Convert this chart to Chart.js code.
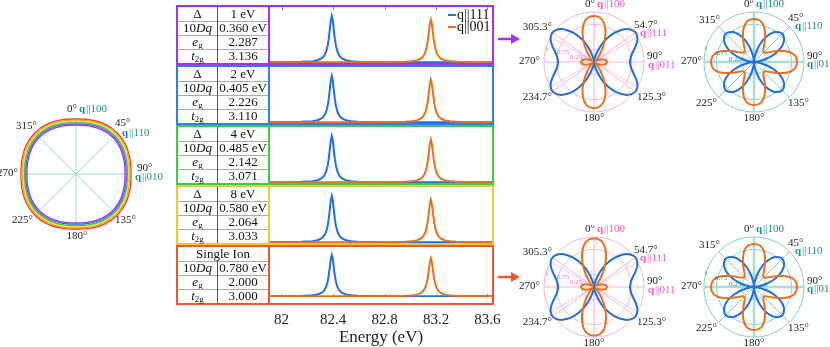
<!DOCTYPE html>
<html><head><meta charset="utf-8">
<script src="https://cdn.jsdelivr.net/npm/chart.js@4.4.1/dist/chart.umd.min.js"></script>
<style>
body{margin:0;background:#fff;}
#wrap{position:relative;width:830px;height:347px;overflow:hidden;font-family:"Liberation Serif",serif;color:#111;}
canvas{position:absolute;}
.box{position:absolute;left:176px;width:314px;height:56px;border:2px solid;z-index:2;}
.tbl{position:absolute;left:0;top:0;width:90px;height:56px;border-right:2px solid;}
.c{position:absolute;height:14px;line-height:14px;font-size:13px;text-align:center;white-space:nowrap;}
.c sub{font-size:9px;line-height:0;vertical-align:-2px;}
.hl{position:absolute;left:0;width:90px;height:1px;background:#aaa;}
.vl{position:absolute;left:39px;width:1px;background:#555;}
svg{position:absolute;}
</style></head>
<body><div id="wrap"></div>
<script>
// ---- energy spectra (same in all five panels) ----
const energy = [81.91,82.05,82.15,82.24,82.28,82.31,82.33,82.346,82.358,82.366,82.374,82.382,82.39,82.398,82.406,82.414,82.422,82.434,82.45,82.47,82.5,82.54,82.59,82.69,82.84,82.96,83.01,83.05,83.08,83.1,83.116,83.128,83.136,83.144,83.152,83.16,83.168,83.176,83.184,83.192,83.204,83.22,83.24,83.27,83.31,83.36,83.46,83.635];
const q111 = [.0025,.005,.0099,.025,.0455,.0826,.138,.229,.36,.5,.692,.9,1,.9,.692,.5,.36,.229,.138,.0826,.0455,.025,.0142,.0064,.0028,.0018,.0015,.0013,.0012,.0011,.001,.001,.001,.001,.001,.001,.001,.001,.001,.001,.001,.0009,.0009,.0008,.0008,.0007,.0006,.0004];
const q001 = [.0003,.0004,.0005,.0007,.0007,.0007,.0008,.0008,.0008,.0008,.0008,.0009,.0009,.0009,.0009,.0009,.0009,.001,.001,.001,.001,.0011,.0013,.0024,.0051,.0131,.023,.0419,.076,.127,.211,.331,.46,.637,.828,.92,.828,.637,.46,.331,.211,.127,.076,.0419,.023,.0131,.0059,.0023];
const xTickValues = [82, 82.4, 82.8, 83.2, 83.6];

// ---- parameter tables ----
const panelColors = ['#a62ef5','#2a7ef2','#3dcc3d','#f5c52c','#f25527'];
const deltaText = ['1 eV','2 eV','4 eV','8 eV','Single Ion'];
const tenDqText = ['0.360 eV','0.405 eV','0.485 eV','0.580 eV','0.780 eV'];
const egText = ['2.287','2.226','2.142','2.064','2.000'];
const t2gText = ['3.136','3.110','3.071','3.033','3.000'];

// ---- polar patterns, angles in degrees (5 deg step) ----
const angles5 = [0,5,10,15,20,25,30,35,40,45,50,55,60,65,70,75,80,85,90,95,100,105,110,115,120,125,130,135,140,145,150,155,160,165,170,175,180,185,190,195,200,205,210,215,220,225,230,235,240,245,250,255,260,265,270,275,280,285,290,295,300,305,310,315,320,325,330,335,340,345,350,355];
const p111Blue = [0,.02,.06,.14,.27,.42,.57,.71,.83,.93,.99,1.02,1,.95,.88,.81,.76,.73,.72,
  .73,.76,.81,.88,.95,1,1.02,.99,.93,.83,.71,.57,.42,.27,.14,.06,.02,
  0,.02,.06,.14,.27,.42,.57,.71,.83,.93,.99,1.02,1,.95,.88,.81,.76,.73,.72,
  .73,.76,.81,.88,.95,1,1.02,.99,.93,.83,.71,.57,.42,.27,.14,.06,.02];
const p111Orange = [.92,.91,.87,.79,.67,.52,.37,.24,.14,.08,.05,.04,.06,.1,.15,.2,.23,.25,.26,
  .25,.23,.2,.15,.1,.06,.04,.05,.08,.14,.24,.37,.52,.67,.79,.87,.91,
  .92,.91,.87,.79,.67,.52,.37,.24,.14,.08,.05,.04,.06,.1,.15,.2,.23,.25,.26,
  .25,.23,.2,.15,.1,.06,.04,.05,.08,.14,.24,.37,.52,.67,.79,.87,.91];
const p111OrangeIon = [.97,.96,.92,.83,.7,.55,.39,.25,.15,.08,.05,.04,.06,.1,.15,.2,.23,.25,.26,
  .25,.23,.2,.15,.1,.06,.04,.05,.08,.15,.25,.39,.55,.7,.83,.92,.96,
  .97,.96,.92,.83,.7,.55,.39,.25,.15,.08,.05,.04,.06,.1,.15,.2,.23,.25,.26,
  .25,.23,.2,.15,.1,.06,.04,.05,.08,.15,.25,.39,.55,.7,.83,.92,.96];
const p100Blue = [0,.05,.14,.27,.41,.54,.65,.73,.78,.8,.78,.73,.65,.54,.41,.27,.14,.05,
  0,.05,.14,.27,.41,.54,.65,.73,.78,.8,.78,.73,.65,.54,.41,.27,.14,.05,
  0,.05,.14,.27,.41,.54,.65,.73,.78,.8,.78,.73,.65,.54,.41,.27,.14,.05,
  0,.05,.14,.27,.41,.54,.65,.73,.78,.8,.78,.73,.65,.54,.41,.27,.14,.05];
const p100Orange = [.86,.85,.82,.75,.64,.52,.41,.33,.29,.28,.29,.33,.41,.52,.64,.75,.82,.85,
  .86,.85,.82,.75,.64,.52,.41,.33,.29,.28,.29,.33,.41,.52,.64,.75,.82,.85,
  .86,.85,.82,.75,.64,.52,.41,.33,.29,.28,.29,.33,.41,.52,.64,.75,.82,.85,
  .86,.85,.82,.75,.64,.52,.41,.33,.29,.28,.29,.33,.41,.52,.64,.75,.82,.85];
const ringTicks = [0, 0.25, 0.75, 1];

// ---- left polar, 15 deg step, one curve per panel (rainbow) ----
const angles15 = [0,15,30,45,60,75,90,105,120,135,150,165,180,195,210,225,240,255,270,285,300,315,330,345];
const shellRed    = [.917,.933,.959,.971,.959,.933,.917,.933,.959,.971,.959,.933,.917,.933,.959,.971,.959,.933,.917,.933,.959,.971,.959,.933];
const shellOrange = [.897,.913,.938,.95,.938,.913,.897,.913,.938,.95,.938,.913,.897,.913,.938,.95,.938,.913,.897,.913,.938,.95,.938,.913];
const shellYellow = [.877,.892,.917,.929,.917,.892,.877,.892,.917,.929,.917,.892,.877,.892,.917,.929,.917,.892,.877,.892,.917,.929,.917,.892];
const shellGreen  = [.857,.872,.896,.908,.896,.872,.857,.872,.896,.908,.896,.872,.857,.872,.896,.908,.896,.872,.857,.872,.896,.908,.896,.872];
const shellBlue   = [.837,.852,.875,.887,.875,.852,.837,.852,.875,.887,.875,.852,.837,.852,.875,.887,.875,.852,.837,.852,.875,.887,.875,.852];
const shellPurple = [.817,.831,.854,.866,.854,.831,.817,.831,.854,.866,.854,.831,.817,.831,.854,.866,.854,.831,.817,.831,.854,.866,.854,.831];

const BLUE = '#1f6fe3', ORANGE = '#e8711d', PINK = '#ee5cc4', TEAL = '#1e8f8f';
const FONT = '"Liberation Serif", serif';
Chart.defaults.font.family = FONT;
Chart.defaults.animation = false;

const wrap = document.getElementById('wrap');
function mkCanvas(x, y, w, h){
  const c = document.createElement('canvas');
  c.width = w; c.height = h; c.style.left = x+'px'; c.style.top = y+'px';
  wrap.appendChild(c); return c;
}

// ---------- spectra panels ----------
const panelTops = [5,65,125,185,245];
const legendPlugin = { id:'leg', afterDraw(ch){
  const ctx = ch.ctx, a = ch.chartArea;
  [['q||111',BLUE,8],['q||001',ORANGE,20]].forEach(([t,col,y])=>{
    ctx.strokeStyle = col; ctx.lineWidth = 2;
    ctx.beginPath(); ctx.moveTo(a.left+178, a.top+y); ctx.lineTo(a.left+186, a.top+y); ctx.stroke();
    ctx.fillStyle = '#111'; ctx.font = '14px '+FONT; ctx.textAlign = 'left'; ctx.textBaseline = 'middle';
    ctx.fillText(t, a.left+187, a.top+y+0.5);
  });
}};
function innerTicks(atTop){ return { id:'itk', afterDraw(ch){
  const ctx = ch.ctx, a = ch.chartArea, sx = ch.scales.x;
  ctx.strokeStyle = '#888'; ctx.lineWidth = 1;
  xTickValues.forEach(v=>{
    const px = Math.round(sx.getPixelForValue(v))+0.5;
    ctx.beginPath();
    if (atTop){ ctx.moveTo(px, a.top); ctx.lineTo(px, a.top+3); }
    else { ctx.moveTo(px, a.bottom); ctx.lineTo(px, a.bottom-3); }
    ctx.stroke();
  });
}};}

panelColors.forEach((col, k)=>{
  const last = k === panelColors.length-1;
  const cv = last ? mkCanvas(240, panelTops[k]+2, 282, 100) : mkCanvas(270, panelTops[k]+2, 222, 56);
  const plugins = [];
  if (k === 0){ plugins.push(legendPlugin, innerTicks(true)); }
  if (last) plugins.push(innerTicks(false));
  new Chart(cv, {
    type: 'line',
    data: { datasets: [
      { data: energy.map((x,i)=>({x, y:q001[i]})), borderColor: ORANGE },
      { data: energy.map((x,i)=>({x, y:q111[i]})), borderColor: BLUE }
    ]},
    options: {
      responsive: false, devicePixelRatio: 1,
      layout: { padding: last ? {left:30, right:30, top:0, bottom:0} : 0 },
      elements: { point: { radius: 0 }, line: { borderWidth: 2, tension: 0 } },
      plugins: { legend: { display: false }, tooltip: { enabled: false } },
      scales: {
        x: { type: 'linear', min: 81.91, max: 83.635, display: last,
             afterBuildTicks: s => { s.ticks = xTickValues.map(v=>({value:v})); },
             grid: { display: false }, border: { display: false },
             ticks: { color: '#222', font: { size: 15 }, padding: 6, callback: v => String(v) },
             title: { display: true, text: 'Energy (eV)', color: '#222', font: { size: 17, lineHeight: 1 }, padding: { top: 2, bottom: 1 } } },
        y: { min: -0.015, max: 1.194, display: false }
      }
    },
    plugins
  });

  // frame + table
  const box = document.createElement('div');
  box.className = 'box'; box.style.top = panelTops[k]+'px'; box.style.borderColor = col;
  let h = `<div class="tbl" style="border-color:${col}">`;
  const cell = (t, x, w, y) => `<div class="c" style="left:${x}px;width:${w}px;top:${y}px">${t}</div>`;
  if (last) h += cell(deltaText[k], 0, 90, 0);
  else h += cell('Δ', 0, 39, 0) + cell(deltaText[k], 40, 50, 0);
  h += cell('10<i>Dq</i>', 0, 39, 14) + cell(tenDqText[k], 40, 50, 14);
  h += cell('<i>e</i><sub>g</sub>', 0, 39, 28) + cell(egText[k], 40, 50, 28);
  h += cell('<i>t</i><sub>2g</sub>', 0, 39, 42) + cell(t2gText[k], 40, 50, 42);
  [14,28,42].forEach(y=> h += `<div class="hl" style="top:${y-0.5}px"></div>`);
  h += `<div class="vl" style="top:${last?14:0}px;height:${last?42:56}px"></div></div>`;
  box.innerHTML = h;
  wrap.appendChild(box);
});

// arrows
[[30, panelColors[0]], [268, panelColors[4]]].forEach(([y,col])=>{
  wrap.insertAdjacentHTML('beforeend', `<svg style="left:496px;top:${y}px" width="28" height="20"><line x1="2" y1="9" x2="17" y2="9" stroke="${col}" stroke-width="2.5"/><polygon points="15,4 24,9 15,14" fill="${col}"/></svg>`);
});

// ---------- polar plots ----------
function qLabel(ctx, s, x, y, align, color){
  ctx.font = 'bold 11px '+FONT; const wq = ctx.measureText('q').width;
  ctx.font = '11px '+FONT; const wr = ctx.measureText(s.slice(1)).width;
  const x0 = align==='left' ? x : align==='right' ? x-wq-wr-1 : x-(wq+wr+1)/2;
  ctx.fillStyle = color; ctx.textAlign = 'left';
  ctx.font = 'bold 11px '+FONT; ctx.fillText('q', x0, y);
  ctx.font = '11px '+FONT; ctx.fillText(s.slice(1), x0+wq+1, y);
}
function polarDeco(spokes, labels, tickLabels, gridCol, qCol){
  return { id:'deco',
    beforeDatasetsDraw(ch){
      const s = ch.scales.r, ctx = ch.ctx;
      spokes.forEach(([a, to, w, c])=>{
        const d = s.getDistanceFromCenterForValue(to), r = a*Math.PI/180;
        ctx.strokeStyle = c || gridCol; ctx.lineWidth = w;
        ctx.beginPath(); ctx.moveTo(s.xCenter, s.yCenter);
        ctx.lineTo(s.xCenter + Math.sin(r)*d, s.yCenter - Math.cos(r)*d); ctx.stroke();
      });
    },
    afterDraw(ch){
      const s = ch.scales.r, ctx = ch.ctx;
      ctx.textBaseline = 'middle';
      labels.forEach(([t, dx, dy, al])=>{
        const x = s.xCenter+dx, y = s.yCenter+dy;
        if (t[0] === 'q') qLabel(ctx, t, x, y, al, qCol);
        else { ctx.fillStyle = '#222'; ctx.font = '11px '+FONT; ctx.textAlign = al; ctx.fillText(t, x, y); }
      });
      ctx.font = '7px '+FONT; ctx.fillStyle = qCol; ctx.textAlign = 'center';
      tickLabels.forEach(([t, dx, dy])=> ctx.fillText(t, s.xCenter+dx, s.yCenter+dy));
    }
  };
}
function polarChart(cv, labels, sets, pad, gridCol, deco){
  return new Chart(cv, {
    type: 'radar',
    data: { labels, datasets: sets.map(([d,c,w])=>({ data: d, borderColor: c, borderWidth: w||2, fill: false, pointRadius: 0, tension: 0.25, clip: false })) },
    options: {
      responsive: false, devicePixelRatio: 1, layout: { padding: pad },
      plugins: { legend: { display: false }, tooltip: { enabled: false } },
      scales: { r: { min: 0, max: 1,
        afterBuildTicks: s => { s.ticks = ringTicks.map(v=>({value:v})); },
        ticks: { display: false }, pointLabels: { display: false }, angleLines: { display: false },
        grid: { color: gridCol, lineWidth: 1 } } }
    },
    plugins: [deco]
  });
}

const PINKGRID = '#f7b2df', TEALGRID = '#86cccc';
const pinkSpokes = [0,54.7,90,125.3,180,234.7,270,305.3].map(a=>[a,1,1]).concat([60,120,240,300].map(a=>[a,1,0.8]));
const pinkLabels = [['0°',1,-57.5,'right'],['q||100',3,-57.5,'left'],['54.7°',40,-37,'left'],['q||111',46,-29,'left'],
  ['90°',53,-6,'left'],['q||011',54,3,'left'],['125.3°',43,35,'left'],['180°',0,56,'center'],
  ['234.7°',-42,35,'right'],['270°',-54,-1,'right'],['305.3°',-42,-35,'right']];
const pinkTicks = [['1',-47,-13],['0.75',-31,-9.5],['0.25',-18,-5]];
const tealSpokes = [0,90,180,270].map(a=>[a,1,2.5,'#a6dcdc']).concat([45,135,225,315].map(a=>[a,1,1]));
const tealLabels = [['0°',0,-57.5,'right'],['q||100',2,-57.5,'left'],['45°',34,-44,'left'],['q||110',41,-36,'left'],
  ['90°',53,-6,'left'],['q||010',53,2,'left'],['135°',34,41,'left'],['180°',0,56,'center'],
  ['225°',-37,41,'right'],['270°',-52,-1,'right'],['315°',-34,-42,'right']];
const tealTicks = [['1',-48,-14],['0.75',-33,-9],['0.25',-19,-3]];
const pad100 = { left: 35, right: 35, top: 12, bottom: 12 };

[[0, p111Orange], [225, p111OrangeIon]].forEach(([top, orange])=>{
  polarChart(mkCanvas(509, top, 170, 124), angles5, [[orange, ORANGE], [p111Blue, BLUE]], pad100, PINKGRID,
    polarDeco(pinkSpokes, pinkLabels, pinkTicks, PINKGRID, PINK));
  polarChart(mkCanvas(669, top, 170, 124), angles5, [[p100Orange, ORANGE], [p100Blue, BLUE]], pad100, TEALGRID,
    polarDeco(tealSpokes, tealLabels, tealTicks, TEALGRID, TEAL));
});

// left rainbow polar
const leftSpokes = [0,45,90,135,180,225,270,315].map((a,i)=>[a, shellPurple[i*3], 1, '#9fd6d6']);
const leftLabels = [['0°',1,-65,'right'],['q||100',3,-65,'left'],['45°',39,-51,'left'],['q||110',46,-41,'left'],
  ['90°',61,-6,'left'],['q||010',59,3,'left'],['135°',39,46,'left'],['180°',1,62,'center'],
  ['225°',-43,46,'right'],['270°',-58,-1,'right'],['315°',-39,-48,'right']];
polarChart(mkCanvas(0, 95, 170, 160), angles15,
  [[shellPurple,'#a531f2',1.3],[shellBlue,'#3b6ef2',1.3],[shellGreen,'#3ccc3c',1.3],[shellYellow,'#f2e21c',1.3],[shellOrange,'#ff9b22',1.3],[shellRed,'#f0392b',1.3]],
  { left: 16, right: 34, top: 19, bottom: 21 }, 'rgba(0,0,0,0)',
  polarDeco(leftSpokes, leftLabels, [], '#9fd6d6', TEAL));
</script>
</body></html>
